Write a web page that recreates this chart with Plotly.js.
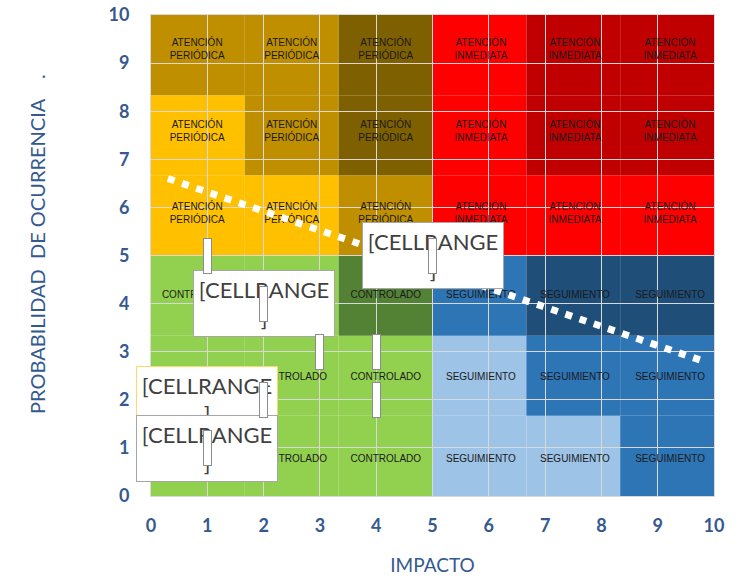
<!DOCTYPE html>
<html><head><meta charset="utf-8">
<script src="https://cdn.plot.ly/plotly-3.0.1.min.js"></script>
<style>html,body{margin:0;padding:0;background:#fff}#chart{width:746px;height:579px}</style>
</head><body><div id="chart"></div>
<script>
// ---- data ----
const tickVals = [0,1,2,3,4,5,6,7,8,9,10];
const tickText = ['0','1','2','3','4','5','6','7','8','9','10'];

// risk zones, 6 x 6 grid (rows bottom -> top, cols left -> right)
const zoneRows = [
  ['G','G','G','LB','LB','MB'],
  ['G','G','G','LB','MB','MB'],
  ['G','G','DG','MB','NB','NB'],
  ['Y','Y','GD','R','R','R'],
  ['Y','GD','DK','R','DR','DR'],
  ['GD','GD','DK','R','DR','DR']
];
const zoneColors = {G:'#92D050', DG:'#548235', LB:'#9DC3E6', MB:'#2E75B6', NB:'#1F4E79',
                    Y:'#FFC000', GD:'#BF8F00', DK:'#7F6000', R:'#FF0000', DR:'#C00000'};

// zone captions
const captionX = [0.82, 2.5, 4.17, 5.86, 7.53, 9.22];
const captionY = [0.75, 2.46, 4.16, 5.86, 7.57, 9.28];
const captionLowLeft = 'CONTROLADO';
const captionLowRight = 'SEGUIMIENTO';
const captionHighLeft = 'ATENCIÓN<br>PERIÓDICA';
const captionHighRight = 'ATENCIÓN<br>INMEDIATA';

// risk points (impacto, probabilidad)
const riskX = [1, 2, 3, 4, 4, 2, 1, 5];
const riskY = [5, 4, 3, 3, 2, 2, 1, 5];

// data label boxes
const labelX = [1, 1, 5, 2];
const labelY = [2, 0.98, 5, 4];
const labelText = '[CELLRANGE<br>]';
const labelBorder = ['#FFD966', '#A6A6A6', '#A6A6A6', '#A6A6A6'];

// dotted trend line
const trendX = [0.3, 9.77];
const trendY = [6.6, 2.82];

const xTitle = 'IMPACTO';
const yTitle = 'PROBABILIDAD\u00A0\u00A0DE OCURRENCIA\u00A0\u00A0\u00A0\u00A0.';

// ---- build ----
const step = 10 / 6;
const shapes = [];
zoneRows.forEach((row, r) => row.forEach((code, c) => {
  shapes.push({type:'rect', xref:'x', yref:'y', layer:'below',
    x0: c*step, x1: (c+1)*step, y0: r*step, y1: (r+1)*step,
    fillcolor: zoneColors[code], line:{width:0}});
}));

const capX = [], capY = [], capT = [];
captionY.forEach((y, r) => captionX.forEach((x, c) => {
  capX.push(x); capY.push(y);
  if (r < 3) capT.push(c < 3 ? captionLowLeft : captionLowRight);
  else capT.push(c < 3 ? captionHighLeft : captionHighRight);
}));

const traces = [
  {type:'scatter', mode:'text', x:capX, y:capY, text:capT, hoverinfo:'skip',
   textfont:{family:'Liberation Sans, Arial, sans-serif', size:10, color:'#1a1a1a'}, showlegend:false},
  {type:'scatter', mode:'lines', x:trendX, y:trendY, hoverinfo:'skip',
   line:{color:'#ffffff', width:7, dash:'7px,8px'}, showlegend:false},
  {type:'scatter', mode:'markers', x:riskX, y:riskY, cliponaxis:false,
   marker:{color:'#4472C4', size:6}, showlegend:false}
];

const annotations = [];
labelX.forEach((x, i) => {
  annotations.push({xref:'x', yref:'y', x:x, y:labelY[i], text:labelText, showarrow:false,
    xanchor:'center', yanchor:'middle', width:140, height:65, borderpad:0, borderwidth:1,
    bordercolor:labelBorder[i], bgcolor:'#ffffff', valign:'middle', align:'center',
    font:{family:'Lato, Carlito, sans-serif', size:22, color:'#404040'}});
});
riskX.forEach((x, i) => {
  annotations.push({xref:'x', yref:'y', x:x, y:riskY[i], text:' ', showarrow:false,
    xanchor:'center', yanchor:'middle', width:7, height:34, borderpad:0, borderwidth:1,
    bordercolor:'#8C8C8C', bgcolor:'#ffffff', font:{size:1}});
});
// y axis title (placed to match the reference's off-centre position)
annotations.push({xref:'paper', yref:'paper', x:-0.2025, y:0.524, text:yTitle, textangle:-90,
  showarrow:false, xanchor:'center', yanchor:'middle',
  font:{family:'Lato, sans-serif', size:20, color:'#35598F'}});

const axisFont = {family:'Lato, sans-serif', size:18, color:'#35598F', weight:'bold'};
const layout = {
  width:746, height:579,
  margin:{l:151, r:32, t:15, b:83},
  paper_bgcolor:'#ffffff', plot_bgcolor:'#ffffff',
  showlegend:false,
  shapes:shapes,
  annotations:annotations,
  xaxis:{range:[0,10], tickvals:tickVals, ticktext:tickText, showgrid:true, gridcolor:'#D9D9D9',
    gridwidth:1, zeroline:false, showline:true, mirror:true, linecolor:'#D9D9D9',
    ticks:'outside', ticklen:13, tickcolor:'rgba(0,0,0,0)', tickfont:axisFont, fixedrange:true,
    title:{text:xTitle, standoff:24, font:{family:'Lato, sans-serif', size:19, color:'#35598F'}}},
  yaxis:{range:[0,10], tickvals:tickVals, ticktext:tickText, showgrid:true, gridcolor:'#D9D9D9',
    gridwidth:1, zeroline:false, showline:true, mirror:true, linecolor:'#D9D9D9',
    ticks:'outside', ticklen:17, tickcolor:'rgba(0,0,0,0)', tickfont:axisFont, fixedrange:true}
};

Plotly.newPlot('chart', traces, layout, {staticPlot:true, displayModeBar:false});
</script>
</body></html>
